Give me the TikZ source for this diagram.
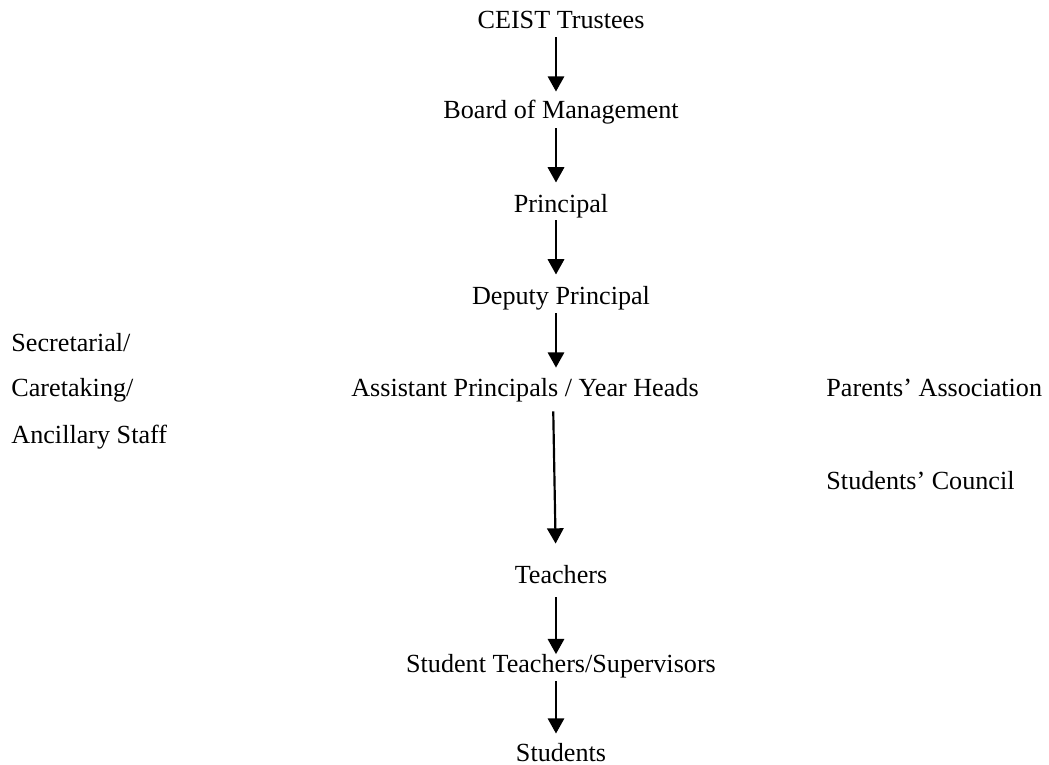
\documentclass[tikz,border=0pt]{standalone}
\usepackage{fontspec}
\setmainfont{Liberation Serif}
\usetikzlibrary{arrows.meta}
\tikzset{
  post/.style={inner sep=0pt, text height=8pt, text depth=0pt, anchor=base, font=\fontsize{12}{14}\selectfont},
  side/.style={post, anchor=base west},
  down/.style={line width=1pt, -{Triangle[width=7.5pt,length=7pt]}, shorten <=3.7pt, shorten >=5.5pt},
}
\begin{document}
\begin{tikzpicture}[x=0.459pt,y=-0.459pt]
    \useasboundingbox (0,0) rectangle (1049,765);
    \node[post] (trustees) at (561,29) {CEIST Trustees};
    \node[post] (board) at (561,119) {Board of Management};
    \node[post] (principal) at (561,213) {Principal};
    \node[post] (deputy) at (561,305) {Deputy Principal};
    \node[post] (assistant) at (525,397) {Assistant Principals / Year Heads};
    \node[side] (secretarial) at (11,352) {Secretarial/};
    \node[side] (caretaking) at (11,397) {Caretaking/};
    \node[side] (ancillary) at (11,443) {Ancillary Staff};
    \node[side] (parents) at (826,397) {Parents' Association};
    \node[side] (council) at (826,489) {Students' Council};
    \node[post] (teachers) at (561,583) {Teachers};
    \node[post] (studteach) at (561,672) {Student Teachers/Supervisors};
    \node[post] (students) at (561,761) {Students};
    \draw[down, shorten >=4.4pt] ([xshift=-2.3pt]trustees.south) -- ([xshift=-2.3pt]board.north);
    \draw[down, shorten <=4.1pt, shorten >=5.8pt] ([xshift=-2.3pt]board.south) -- ([xshift=-2.3pt]principal.north);
    \draw[down, shorten <=3.2pt, shorten >=5.8pt] ([xshift=-2.3pt]principal.south) -- ([xshift=-2.3pt]deputy.north);
    \draw[down, shorten >=5.3pt] ([xshift=-2.3pt]deputy.south) -- ([xshift=-2.3pt]assistant.north -| deputy.north);
    \draw[down, shorten <=6.4pt, shorten >=9.9pt] ([xshift=12.85pt]assistant.south) -- ([xshift=-2.3pt]teachers.north);
    \draw[down, shorten <=6.4pt, shorten >=0pt] ([xshift=-2.3pt]teachers.south) -- ([xshift=-2.3pt]studteach.north);
    \draw[down, shorten <=4.1pt, shorten >=4.4pt] ([xshift=-2.3pt]studteach.south) -- ([xshift=-2.3pt]students.north);
\end{tikzpicture}
\end{document}
